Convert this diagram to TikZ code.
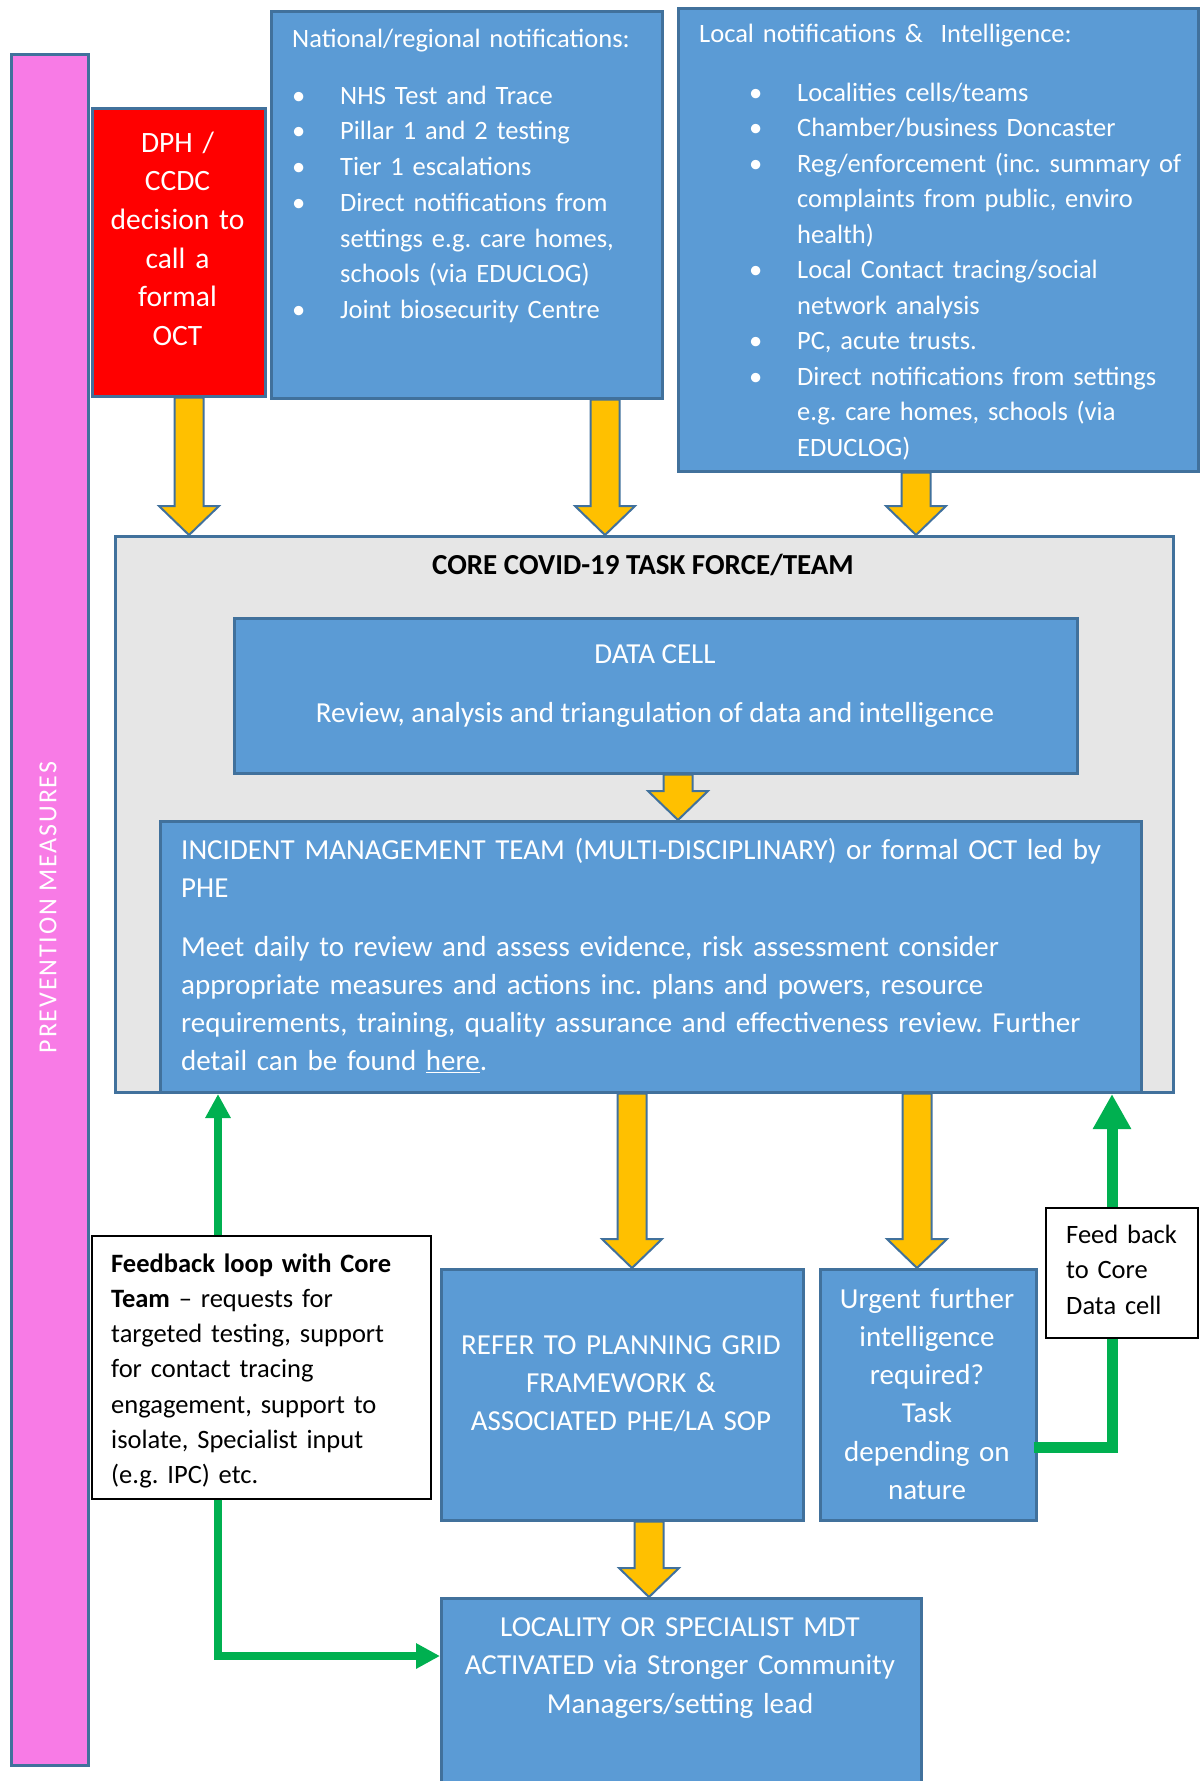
\documentclass[tikz,border=0pt]{standalone}
\usepackage{fontspec}
\setmainfont{Carlito}
\usetikzlibrary{calc,arrows.meta}
\definecolor{bfill}{HTML}{5B9BD5}
\definecolor{bline}{HTML}{41719C}
\definecolor{yfill}{HTML}{FFC000}
\definecolor{pinkf}{HTML}{F87BE6}
\definecolor{greyf}{HTML}{E6E6E6}
\definecolor{greenl}{HTML}{00B050}
\definecolor{redf}{HTML}{FF0000}
\frenchspacing
\newcommand\fs[2]{\fontsize{#1}{#2}\selectfont}
\newcommand\tstr{\rule{0pt}{25pt}}
\newcommand\bitem{\makebox[48pt][l]{\textbullet}}
\newcommand\bcont{\hspace*{48pt}}
\newcommand\yblk[2]{\path[yarr] let \p1=#1, \p2=#2 in
  (\x1-14.5pt,\y1) -- (\x1+14.5pt,\y1) -- (\x1+14.5pt,\y2+29pt) -- (\x1+30pt,\y2+29pt)
  -- (\x1,\y2) -- (\x1-30pt,\y2+29pt) -- (\x1-14.5pt,\y2+29pt) -- cycle;}
\tikzset{
  box/.style={draw=bline, line width=2.5pt, fill=bfill, inner sep=0pt, anchor=north west},
  wbox/.style={draw=black, line width=1.5pt, fill=white, inner sep=0pt, anchor=north west},
  ltxt/.style={inner sep=0pt, text=white, align=left, anchor=north west, text width=#1},
  ctxt/.style={inner sep=0pt, text=white, align=center, anchor=north, text width=#1},
  yarr/.style={fill=yfill, draw=bline, line width=2pt, line join=miter},
  gline/.style={draw=greenl, line width=8pt},
}
\begin{document}
\begin{tikzpicture}[x=1pt,y=-1pt]
\useasboundingbox[fill=white] (0,0) rectangle (1200,1781);

% prevention bar
\node[box, fill=pinkf, minimum width=77pt, minimum height=1711pt] (pink) at (10,53) {};
\node[inner sep=0pt, rotate=90, text=white, font={\fs{26}{30}\addfontfeatures{LetterSpace=7}}] (prevtxt) at (48,907.5) {PREVENTION MEASURES};

% top boxes
\node[box, fill=redf, minimum width=173pt, minimum height=288pt] (dph) at (91,107) {};
\node[ctxt=170pt, font=\fs{29.5}{38.6}] (dphtxt) at (177.5,127) {\tstr DPH /\\ CCDC\\ decision to\\ call a\\ formal\\ OCT};

\node[box, minimum width=391pt, minimum height=387pt] (natl) at (270,10) {};
\node[ltxt=360pt, font=\fs{26.5}{35.75}] (natlhead) at (292,22) {\tstr National/regional notifications:};
\node[ltxt=360pt, font=\fs{26.5}{35.75}] (natllist) at (292,79) {\tstr\bitem NHS Test and Trace\\
\bitem Pillar 1 and 2 testing\\
\bitem Tier 1 escalations\\
\bitem Direct notifications from\\
\bcont settings e.g. care homes,\\
\bcont schools (via EDUCLOG)\\
\bitem Joint biosecurity Centre};

\node[box, minimum width=520pt, minimum height=463pt] (local) at (677,7) {};
\node[ltxt=480pt, font=\fs{26.5}{35.5}] (localhead) at (699,17) {\tstr Local notifications \& \ Intelligence:};
\node[ltxt=440pt, font=\fs{26.5}{35.5}] (locallist) at (749,76) {\tstr\bitem Localities cells/teams\\
\bitem Chamber/business Doncaster\\
\bitem Reg/enforcement (inc. summary of\\
\bcont complaints from public, enviro\\
\bcont health)\\
\bitem Local Contact tracing/social\\
\bcont network analysis\\
\bitem PC, acute trusts.\\
\bitem Direct notifications from settings\\
\bcont e.g. care homes, schools (via\\
\bcont EDUCLOG)};

% core
\node[box, fill=greyf, minimum width=1058pt, minimum height=556pt] (core) at (114,535) {};
\node[inner sep=0pt, anchor=base, font={\fs{29}{36}\bfseries}] (coretitle) at (643,574) {CORE COVID-19 TASK FORCE/TEAM};

\node[box, minimum width=843pt, minimum height=155pt] (data) at (233,617) {};
\node[inner sep=0pt, anchor=base, text=white, font=\fs{29}{36}] (datat1) at (655,663) {DATA CELL};
\node[inner sep=0pt, anchor=base, text=white, font=\fs{29}{36}] (datat2) at (655,722) {Review, analysis and triangulation of data and intelligence};

\node[box, minimum width=981pt, minimum height=271pt] (imt) at (159,820) {};
\node[ltxt=950pt, font=\fs{29}{38}] (imttxt) at (181,834) {\tstr INCIDENT MANAGEMENT TEAM (MULTI-DISCIPLINARY) or formal OCT led by\\
PHE\\[21pt]
Meet daily to review and assess evidence, risk assessment consider\\
appropriate measures and actions inc. plans and powers, resource\\
requirements, training, quality assurance and effectiveness review. Further\\
detail can be found \underline{here}.};

% lower boxes
\node[box, minimum width=362pt, minimum height=251pt] (refer) at (440,1268) {};
\node[ctxt=360pt, font=\fs{29}{38}] (refertxt) at (621,1329.5) {\tstr REFER TO PLANNING GRID\\ FRAMEWORK \&\\ ASSOCIATED PHE/LA SOP};

\node[box, minimum width=216pt, minimum height=251pt] (urgent) at (819,1268) {};
\node[ctxt=215pt, font=\fs{29}{38.2}] (urgenttxt) at (927,1283) {\tstr Urgent further\\ intelligence\\ required?\\ Task\\ depending on\\ nature};

\node[box, minimum width=480pt, minimum height=200pt] (locality) at (440,1597) {};
\node[ctxt=470pt, font=\fs{29}{38.5}] (localitytxt) at (680,1611) {\tstr LOCALITY OR SPECIALIST MDT\\ ACTIVATED via Stronger Community\\ Managers/setting lead};

% arrow x positions
\coordinate (xa) at (189,0);
\coordinate (xb) at (605,0);
\coordinate (xc) at (916,0);
\coordinate (xd) at (678,0);
\coordinate (xe) at (632,0);
\coordinate (xf) at (917,0);
\coordinate (xg) at (649,0);
\coordinate (gl) at (218,0);
\coordinate (gr) at (1112,0);
\coordinate (gy) at (0,1656);
\coordinate (gz) at (0,1447);

% yellow block arrows
\yblk{(xa |- dph.south)}{(xa |- core.north)}
\yblk{(xb |- natl.south)}{(xb |- core.north)}
\yblk{(xc |- local.south)}{(xc |- core.north)}
\yblk{(xd |- data.south)}{(xd |- imt.north)}
\yblk{(xe |- imt.south)}{(xe |- refer.north)}
\yblk{(xf |- imt.south)}{(xf |- urgent.north)}
\yblk{(xg |- refer.south)}{(xg |- locality.north)}

% green feedback lines
\coordinate (gtop) at (0,1094);
\node[wbox, minimum width=339pt, minimum height=263pt] (loop) at (91,1235) {};
\draw[gline, -{Triangle[width=24pt,length=24pt]}] (gl |- loop.north) -- (gl |- gtop);
\draw[gline, -{Triangle[width=24pt,length=24pt]}] (gl |- loop.south) |- (locality.west |- gy);
\draw[gline, line width=11pt, -{Triangle[width=36pt,length=35pt]}] ($(urgent.east |- gz)+(-4,0)$) -| (gr |- gtop);

\node[ltxt=320pt, text=black, font=\fs{26.5}{35.2}] (looptxt) at (111,1247) {\tstr\textbf{Feedback loop with Core}\\
\textbf{Team} – requests for\\
targeted testing, support\\
for contact tracing\\
engagement, support to\\
isolate, Specialist input\\
(e.g. IPC) etc.};

\node[wbox, minimum width=152pt, minimum height=130pt] (feed) at (1045,1207) {};
\node[ltxt=130pt, text=black, font=\fs{26.5}{35.5}] (feedtxt) at (1066,1218) {\tstr Feed back\\ to Core\\ Data cell};
\end{tikzpicture}
\end{document}
